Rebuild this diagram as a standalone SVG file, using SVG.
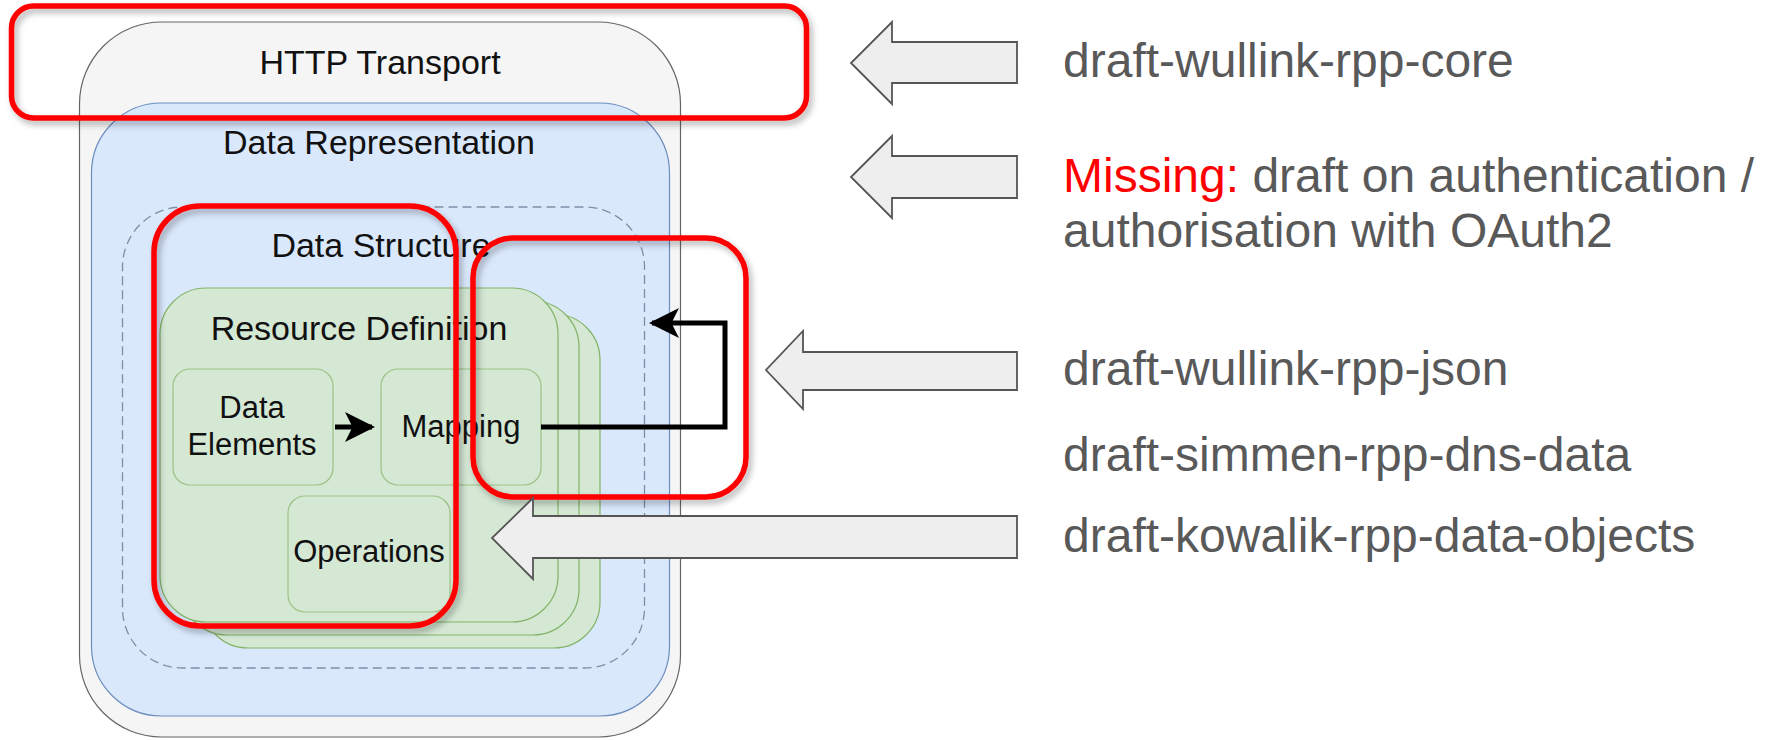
<svg xmlns="http://www.w3.org/2000/svg" width="1765" height="740" viewBox="0 0 1765 740">
  <defs>
    <style>
      .lbl { font-family: "Liberation Sans", Arial, Helvetica, sans-serif; fill: #111111; text-anchor: middle; }
      .big { font-size: 34px; }
      .small { font-size: 31px; }
      .note { font-family: "Liberation Sans", Arial, Helvetica, sans-serif; font-size: 48px; fill: #595959; }
      .miss { fill: #ff0000; }
      .green { fill: #d5e8d4; stroke: #82b366; stroke-width: 1.2; }
      .inner { fill: #d5e8d4; stroke: #9cc285; stroke-width: 1.2; }
      .hl { fill: none; stroke: #ff0000; stroke-width: 5.5; filter: url(#shadow); }
      .block { fill: #eeeeee; stroke: #555555; stroke-width: 1.8; stroke-linejoin: miter; }
      .wire { fill: none; stroke: #000000; stroke-width: 5; }
    </style>
    <filter id="shadow" x="-10%" y="-10%" width="120%" height="130%">
      <feDropShadow dx="3" dy="4" stdDeviation="3" flood-color="#000000" flood-opacity="0.3"/>
    </filter>
    <marker id="head" viewBox="0 0 10 10" refX="9" refY="5" markerWidth="6" markerHeight="6" markerUnits="strokeWidth" orient="auto">
      <path d="M0,0 L10,5 L0,10 L2.5,5 Z" fill="#000000"/>
    </marker>
  </defs>

  <rect width="1765" height="740" fill="#ffffff"/>

  <!-- HTTP transport layer -->
  <g id="http-transport">
    <rect x="79.5" y="22" width="601" height="715" rx="82" ry="82" fill="#f5f5f5" stroke="#666666" stroke-width="1.2"/>
    <text class="lbl big" x="380" y="74">HTTP Transport</text>
  </g>

  <!-- Data representation layer -->
  <g id="data-representation">
    <rect x="91.5" y="103" width="578" height="613" rx="70" ry="70" fill="#dae8fc" stroke="#6c8ebf" stroke-width="1.2"/>
    <text class="lbl big" x="379" y="154">Data Representation</text>
  </g>

  <!-- Data structure (dashed container) -->
  <g id="data-structure">
    <rect x="122.5" y="207" width="522" height="461" rx="60" ry="60" fill="none" stroke="#7f8ea8" stroke-width="1.3" stroke-dasharray="9 5"/>
    <text class="lbl big" x="381" y="257">Data Structure</text>
  </g>

  <!-- Resource definition (stacked) -->
  <g id="resource-definition">
    <rect class="green" x="202" y="314" width="398" height="334" rx="46" ry="46"/>
    <rect class="green" x="181" y="301" width="398" height="334" rx="46" ry="46"/>
    <rect class="green" x="160" y="288" width="398" height="334" rx="46" ry="46"/>
    <text class="lbl big" x="359" y="340">Resource Definition</text>
  </g>

  <g id="data-elements">
    <rect class="inner" x="173" y="369" width="160" height="116" rx="17" ry="17"/>
    <text class="lbl small" x="252" y="418">Data</text>
    <text class="lbl small" x="252" y="455">Elements</text>
  </g>

  <g id="mapping">
    <rect class="inner" x="381" y="369" width="160" height="116" rx="17" ry="17"/>
    <text class="lbl small" x="461" y="437">Mapping</text>
  </g>

  <g id="operations">
    <rect class="inner" x="288" y="496" width="162" height="116" rx="17" ry="17"/>
    <text class="lbl small" x="369" y="562">Operations</text>
  </g>

  <!-- Connectors -->
  <g id="connectors">
    <path class="wire" d="M335,427 L372,427" marker-end="url(#head)"/>
    <path class="wire" d="M541,427 L725,427 L725,323 L652,323" marker-end="url(#head)"/>
  </g>

  <!-- Highlight frames -->
  <g id="highlights">
    <rect class="hl" x="11.5" y="6" width="795" height="112" rx="22" ry="22"/>
    <rect class="hl" x="154" y="206" width="302" height="420" rx="46" ry="46"/>
    <rect class="hl" x="473" y="238" width="273" height="259" rx="40" ry="40"/>
  </g>

  <!-- Block arrows pointing at the layers -->
  <g id="pointer-core">
    <path class="block" d="M1017,42 L892,42 L892,22 L851,63 L892,104 L892,83 L1017,83 Z"/>
  </g>
  <g id="pointer-auth">
    <path class="block" d="M1017,156 L892,156 L892,136 L851,177 L892,218 L892,198 L1017,198 Z"/>
  </g>
  <g id="pointer-json">
    <path class="block" d="M1017,352 L803,352 L803,331 L766,370 L803,409 L803,390 L1017,390 Z"/>
  </g>
  <g id="pointer-objects">
    <path class="block" d="M1017,516 L533,516 L533,498 L492,538 L533,579 L533,558 L1017,558 Z"/>
  </g>

  <!-- Draft references -->
  <g id="draft-labels">
    <text class="note" x="1063" y="77">draft-wullink-rpp-core</text>
    <text class="note" x="1063" y="192"><tspan class="miss">Missing:</tspan> draft on authentication /</text>
    <text class="note" x="1063" y="247">authorisation with OAuth2</text>
    <text class="note" x="1063" y="385">draft-wullink-rpp-json</text>
    <text class="note" x="1063" y="471">draft-simmen-rpp-dns-data</text>
    <text class="note" x="1063" y="552">draft-kowalik-rpp-data-objects</text>
  </g>
</svg>
